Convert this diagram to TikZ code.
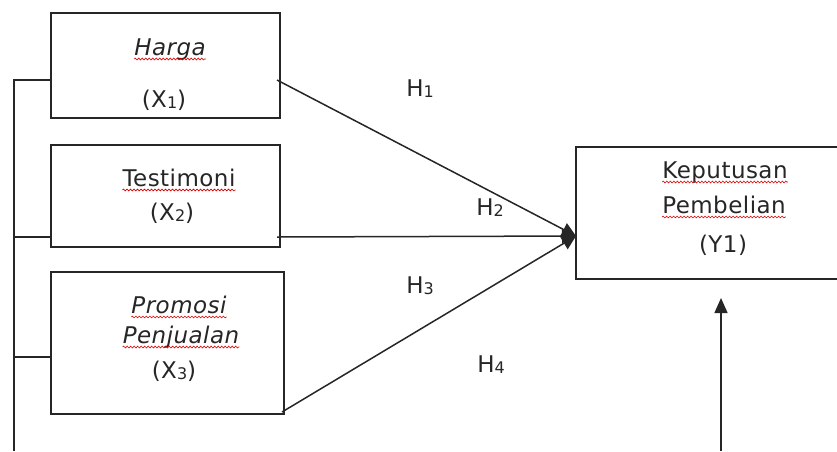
\documentclass[tikz,border=0pt]{standalone}
\usepackage{fontspec}
\setmainfont{DejaVu Sans}[LetterSpace=2]
\usetikzlibrary{arrows.meta,decorations.pathmorphing}
\newcommand{\sbs}[1]{\raisebox{-1.5pt}{\fontsize{16}{16}\selectfont #1}}
\begin{document}
\begin{tikzpicture}[x=1pt,y=-1pt,
  font=\fontsize{23}{27}\selectfont,
  box/.style={draw=black!85,line width=1.6pt,inner sep=0pt,rectangle},
  txt/.style={anchor=base,inner sep=0pt,text=black!85},
  conn/.style={draw=black!85,line width=1.5pt},
  tipc/.style={-{Triangle[length=14pt,width=14pt]}},
  wavy/.style={draw=red!85!black,line width=0.6pt,decorate,decoration={snake,amplitude=0.9pt,segment length=3.5pt}}
]
\useasboundingbox (0,0) rectangle (837,451);
\clip (0,0) rectangle (837,451);

% boxes
\node[box,minimum width=229pt,minimum height=105pt] (x1) at (165.5,65.5) {};
\node[box,minimum width=229pt,minimum height=102pt] (x2) at (165.5,196) {};
\node[box,minimum width=233pt,minimum height=142pt] (x3) at (167.5,343) {};
\node[box,minimum width=284pt,minimum height=132pt] (y) at (718,213) {};

% texts
\node[txt] (harga) at (170,55) {\itshape Harga};
\node[txt] (x1l) at (164,107) {(X\sbs{1})};
\node[txt] (testi) at (179,186) {Testimoni};
\node[txt] (x2l) at (172,220) {(X\sbs{2})};
\node[txt] (promo) at (179,313) {\itshape Promosi};
\node[txt] (penj) at (181,343) {\itshape Penjualan};
\node[txt] (x3l) at (174,378) {(X\sbs{3})};
\node[txt] (kep) at (725,178) {Keputusan};
\node[txt] (pemb) at (724,213) {Pembelian};
\node[txt] (yl) at (723,252) {(Y1)};
\node[txt] (h1) at (420,96) {H\sbs{1}};
\node[txt] (h2) at (490,215) {H\sbs{2}};
\node[txt] (h3) at (420,293) {H\sbs{3}};
\node[txt] (h4) at (491,372) {H\sbs{4}};

% spell-check underlines
\foreach \w in {harga,testi,promo,penj,kep,pemb}{
  \draw[wavy] ([yshift=-4pt]\w.base west) -- ([yshift=-4pt]\w.base east);
}

% connectors
\coordinate (tip) at (576,236);
\coordinate (s1) at (277,80);
\coordinate (s2) at (277,237);
\coordinate (s3) at (282,412);
\draw[conn,tipc] (s1) -- (tip);
\draw[conn,tipc] (s3) -- (tip);
\draw[conn,tipc] (s2) -- (tip);

% left bus
\coordinate (busb) at (14,451);
\coordinate (bus1) at (14,80);
\coordinate (bus2) at (14,237);
\coordinate (bus3) at (14,357);
\draw[conn] (busb) -- (bus1) -- (x1.west |- bus1);
\draw[conn] (bus2) -- (x2.west |- bus2);
\draw[conn] (bus3) -- (x3.west |- bus3);

% bottom arrow
\coordinate (bb) at (721,451);
\coordinate (bt) at (721,298);
\draw[conn,-{Triangle[length=15pt,width=13pt]}] (bb) -- (bt);
\end{tikzpicture}
\end{document}
